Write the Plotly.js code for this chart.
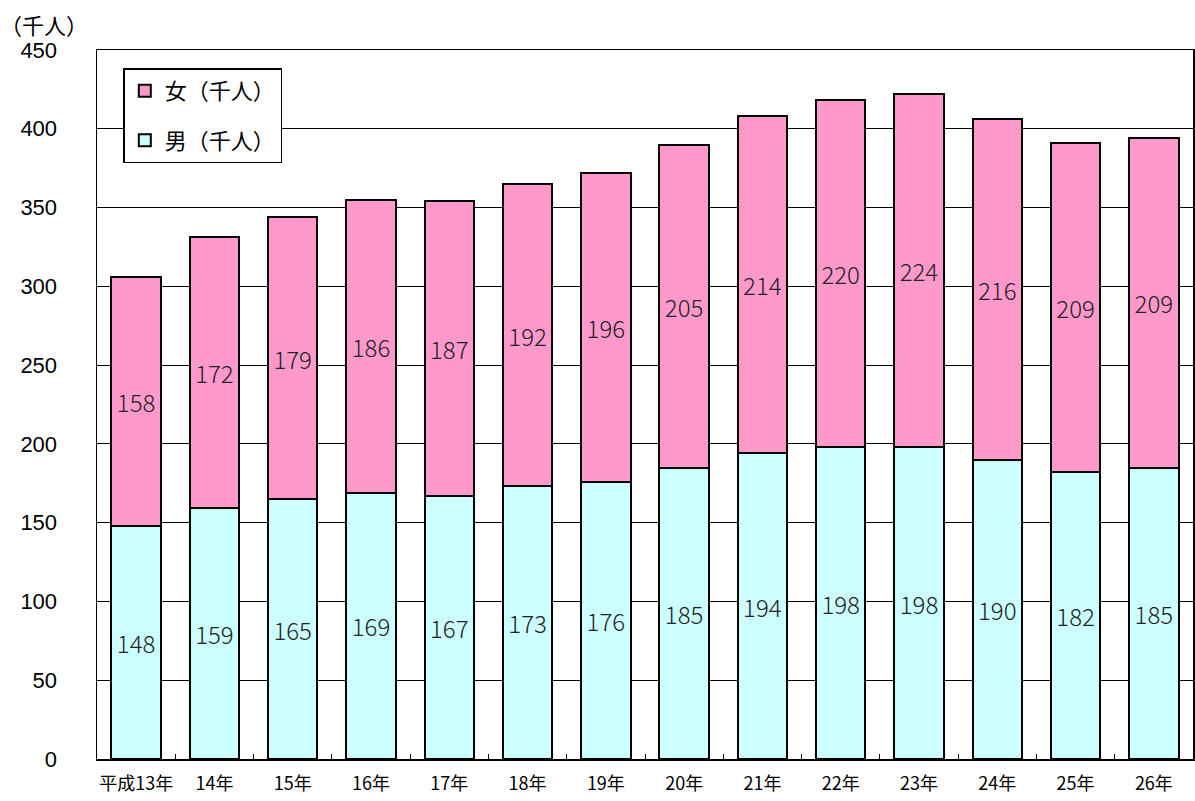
<!DOCTYPE html>
<html><head><meta charset="utf-8">
<script src="https://cdn.plot.ly/plotly-3.0.1.min.js"></script>
<style>body{margin:0;background:#fff}#c{width:1195px;height:801px}</style>
</head><body><div id="c"></div>
<script>
const categories = ["平成13年","14年","15年","16年","17年","18年","19年","20年","21年","22年","23年","24年","25年","26年"];
const male = [148,159,165,169,167,173,176,185,194,198,198,190,182,185];
const female = [158,172,179,186,187,192,196,205,214,220,224,216,209,209];
const yTicks = [0,50,100,150,200,250,300,350,400,450];
const labelFont = {family: "Noto Sans CJK JP", size: 24, color: "#222", weight: 300};
const traces = [
  {type:"bar", name:"男（千人）", legendgroup:"m", legendrank:2, x:categories, y:male, text:male.map(String),
   textposition:"inside", insidetextanchor:"middle", textangle:0, textfont:labelFont,
   marker:{color:"#CCFFFF", line:{color:"#000", width:2}}, hoverinfo:"none"},
  {type:"bar", name:"女（千人）", legendgroup:"f", legendrank:1, x:categories, y:female, text:female.map(String),
   textposition:"inside", insidetextanchor:"middle", textangle:0, textfont:labelFont,
   marker:{color:"#FF99CC", line:{color:"#000", width:2}}, hoverinfo:"none"}
];
const layout = {
  width:1195, height:801,
  margin:{l:97, r:2, t:50, b:42},
  barmode:"stack", bargap:0.37,
  paper_bgcolor:"#fff", plot_bgcolor:"#fff",
  showlegend:true,
  legend:{x:0.024, y:0.974, xanchor:"left", yanchor:"top", traceorder:"grouped",
    bgcolor:"#fff", bordercolor:"#000", borderwidth:1.5, tracegroupgap:18,
    font:{family:"Noto Sans CJK JP", size:22, color:"#000"}, itemwidth:30},
  xaxis:{type:"category", showline:true, linecolor:"#000", linewidth:1.5, mirror:true,
    ticks:"inside", tickson:"boundaries", ticklen:5, tickcolor:"#000", ticklabelstandoff:8, tickangle:0,
    tickfont:{family:"Noto Sans CJK JP", size:18, color:"#000"}, showgrid:false},
  yaxis:{range:[0,450], tickvals:yTicks, ticktext:yTicks.map(String), showline:true, linecolor:"#000", linewidth:1.5, mirror:true,
    showgrid:true, gridcolor:"#000", gridwidth:1, ticks:"", ticklabelstandoff:34,
    tickfont:{family:"Arial, Liberation Sans", size:22, color:"#000"}, zeroline:false},
  annotations:[{text:"（千人）", xref:"paper", yref:"paper", x:-0.09, y:1.0, xanchor:"left", yanchor:"bottom",
    yshift:8, showarrow:false, font:{family:"Noto Sans CJK JP", size:22, color:"#000"}}]
};
Plotly.newPlot("c", traces, layout, {displayModeBar:false, staticPlot:true});
</script></body></html>
